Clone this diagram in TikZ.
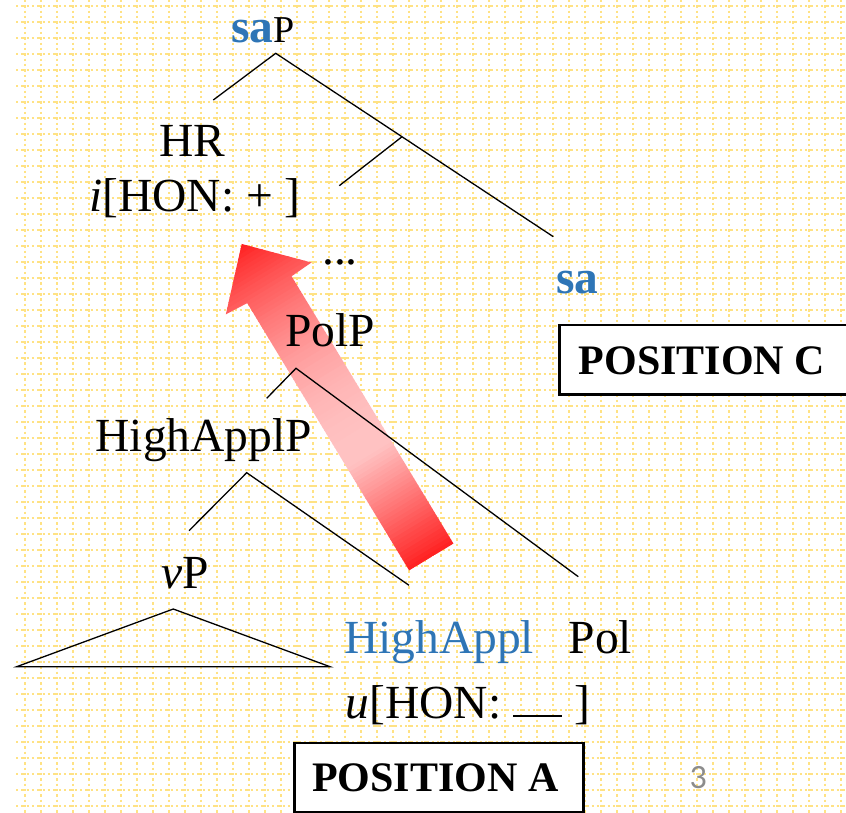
\documentclass[tikz,border=0pt]{standalone}
\usepackage{fontspec}
\setmainfont{Liberation Serif}
\newfontfamily\pagenumfont{Carlito}
\usetikzlibrary{calc}

\definecolor{gridyellow}{RGB}{255,226,132}
\definecolor{sablue}{RGB}{46,117,182}
\definecolor{arrowred}{RGB}{255,32,32}
\definecolor{arrowpale}{RGB}{255,194,194}
\definecolor{pagegray}{RGB}{140,140,140}

\begin{document}
\begin{tikzpicture}[x=1pt,y=-1pt,
  gridline/.style={line width=2.2pt, dash pattern=on 2.4pt off 2.93pt, color=gridyellow},
  branch/.style={line width=1.3pt, black},
  lbl/.style={anchor=base west, inner sep=0pt, font=\fontsize{47.5}{52}\selectfont},
  posbox/.style={draw, line width=2.6pt, fill=white, inner sep=0pt, anchor=north west},
  poslbl/.style={anchor=base west, inner sep=0pt, font=\fontsize{42}{46}\selectfont\bfseries}]

\useasboundingbox (0,0) rectangle (846,813);
\fill[white] (0,0) rectangle (846,813);

% dotted paper grid
\foreach \yy in {6,22,...,806} \draw[gridline] (16,\yy) -- (846,\yy);
\foreach \xx in {25,41,...,841} \draw[gridline] (\xx,0) -- (\xx,813);

% fat shaded movement arrow (tail at origin, pointing along local x)
\begin{scope}[shift={(431.3,557)}, rotate=121.2]
  \path[clip] (0,-25.9) -- (312.5,-25.9) -- (314,-50) -- (366,0)
    -- (314,50) -- (312.5,25.9) -- (0,25.9) -- cycle;
  \foreach \i in {0,...,91} {
    \pgfmathsetmacro\tpos{(\i+0.5)/92}
    \pgfmathsetmacro\tdist{(\tpos-0.33)/0.67}
    \pgfmathtruncatemacro\rmix{\tpos<0.33 ? 100*(1-\tpos/0.33) : 100*\tdist*\tdist}
    \pgfmathsetmacro\ua{\i*3.9783}
    \pgfmathsetmacro\ub{\ua+4.8}
    \fill[arrowred!\rmix!arrowpale] (\ua,-60) rectangle (\ub,60);
  }
\end{scope}

% tree labels
\node[lbl] (saP) at (231,42.7) {{\color{sablue}\bfseries sa}{\fontsize{38}{42}\selectfont P}};
\node[lbl] (HR) at (159,156.7) {HR};
\node[lbl] (HRfeat) at (89,212) {\textit{i}[HON: + ]};
\node[lbl] (dots) at (322,264) {...};
\node[lbl, text=sablue, font=\fontsize{47.5}{52}\selectfont\bfseries] (sa) at (556,293.3) {sa};
\node[lbl] (PolP) at (285,346.7) {PolP};
\node[lbl] (HighApplP) at (95.5,451.7) {HighApplP};
\node[lbl] (vP) at (161.5,588.3) {\textit{v}P};
\node[lbl, text=sablue] (HighAppl) at (344,653.3) {HighAppl};
\node[lbl] (Pol) at (568.5,653.3) {Pol};
\node[lbl] (HAfeat) at (345.5,718.3) {\textit{u}[HON:~\rule[1pt]{49pt}{2.8pt}~]};

% branch points
\coordinate (saPtop) at (275.7,53.3);
\coordinate (hrEnd) at (213.3,100);
\coordinate (saEnd) at (553.3,236.7);
\coordinate (midJ) at ($(saPtop)!0.455!(saEnd)$);
\coordinate (midEnd) at (339.3,185.7);
\coordinate (polTop) at (296,368.3);
\coordinate (polL) at (266.7,398.3);
\coordinate (polR) at (578.3,576.7);
\coordinate (haTop) at (246.7,472.7);
\coordinate (haL) at (189,530.7);
\coordinate (haR) at (409,585.3);
\coordinate (vTop) at (173.3,609);
\coordinate (vL) at (16.7,666.7);
\coordinate (vR) at (330,666.7);

\draw[branch] (hrEnd) -- (saPtop) -- (saEnd);
\draw[branch] (midJ) -- (midEnd);
\draw[branch] (polL) -- (polTop) -- (polR);
\draw[branch] (haL) -- (haTop) -- (haR);
\draw[branch] (vTop) -- (vL) -- (vR) -- cycle;

% position boxes
\node[posbox, minimum width=300pt, minimum height=69.5pt] (boxC) at (558,323.5) {};
\node[poslbl] (posC) at (578.5,374) {POSITION C};
\node[posbox, minimum width=289pt, minimum height=69.3pt] (boxA) at (293,741.7) {};
\node[poslbl] (posA) at (312,791.7) {POSITION A};

% slide number
\node[anchor=base west, inner sep=0pt, text=pagegray, font=\pagenumfont\fontsize{34}{38}\selectfont] (pagenum) at (689.5,788.3) {3};
\end{tikzpicture}
\end{document}
